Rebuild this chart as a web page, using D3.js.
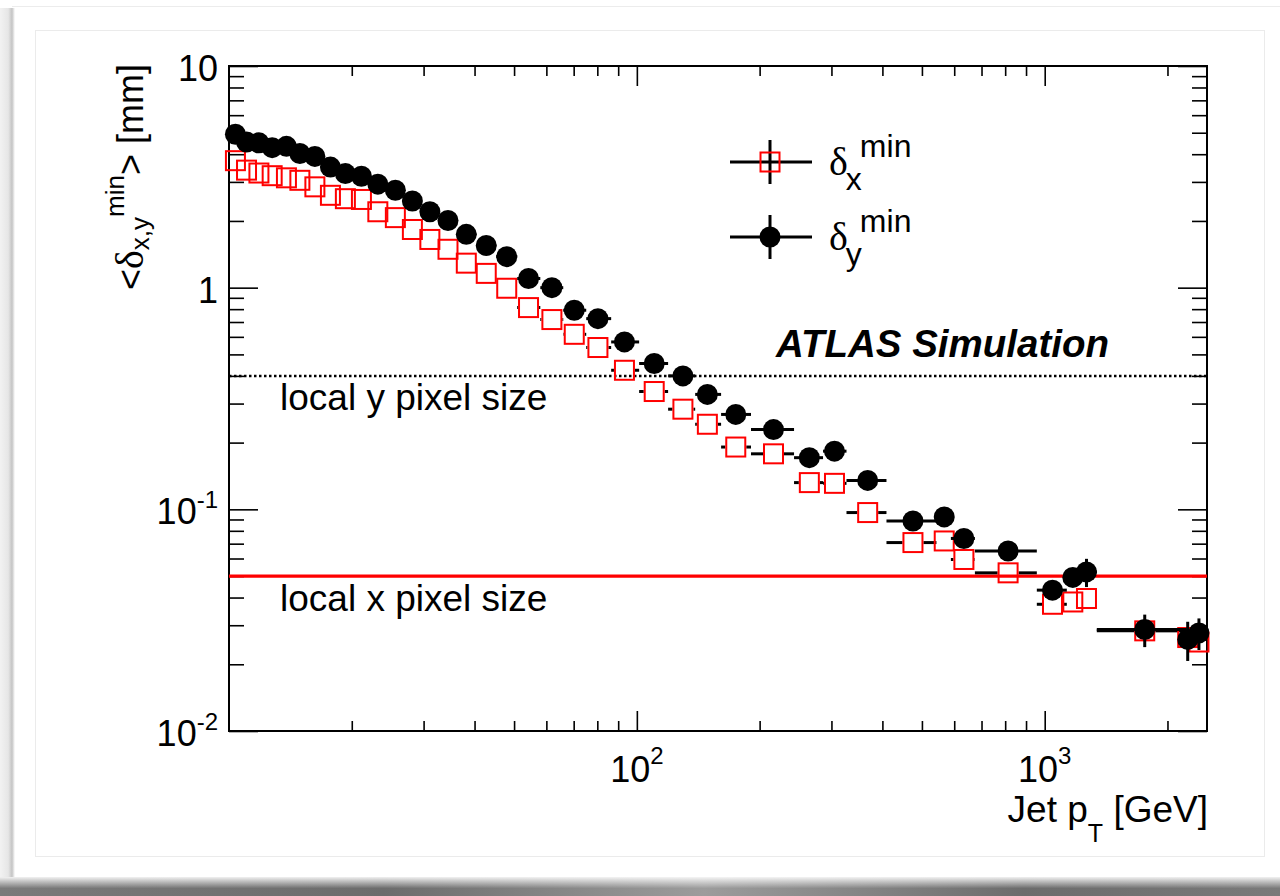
<!DOCTYPE html>
<html>
<head>
<meta charset="utf-8">
<script src="https://cdn.jsdelivr.net/npm/d3@7"></script>
<style>
  body { margin: 0; background: #fff; }
  svg { display: block; font-family: "Liberation Sans", Arial, sans-serif; }
  text { white-space: pre; }
</style>
</head>
<body>
<div id="chart"></div>
<script>
// ---- data ----
// jet pT bin centres [GeV]
const ptCenter = [10.37, 11.04, 11.84, 12.76, 13.83, 14.92, 16.24, 17.73, 19.29, 21.12,
                  23.17, 25.58, 28.16, 31.08, 34.43, 38.18, 42.73, 47.97, 54.25, 61.90,
                  70.23, 80.27, 93.24, 110.3, 129.7, 148.9, 174.8, 216.3, 264.8, 305.2,
                  368.1, 475.3, 567.1, 633.7, 813.3, 1045, 1172, 1266, 1759, 2242, 2389];
// bin edges (horizontal error bars)
const ptEdges = [10, 10.67, 11.42, 12.29, 13.30, 14.39, 15.57, 16.95, 18.49, 20.18,
                 22.09, 24.31, 26.84, 29.62, 32.70, 36.29, 40.40, 45.22, 50.89, 57.98,
                 66.00, 75.14, 86.50, 101.3, 119.3, 139.0, 160.9, 190.5, 242.9, 286.1,
                 326.6, 409.3, 542.7, 588.8, 674.3, 956.5, 1133, 1219, 1342, 2229, 2280, 2500];
// <delta_x^min> [mm]  (open red squares)
const deltaX = [3.74, 3.39, 3.29, 3.20, 3.13, 3.05, 2.85, 2.61, 2.52, 2.50,
                2.20, 2.07, 1.83, 1.65, 1.49, 1.29, 1.16, 0.994, 0.813, 0.718,
                0.616, 0.537, 0.424, 0.340, 0.283, 0.242, 0.191, 0.178, 0.132, 0.131,
                0.0967, 0.0708, 0.0720, 0.0594, 0.0517, 0.0373, 0.0382, 0.0396, 0.0283, 0.0264, 0.0252];
const deltaXErr = [0.04, 0.04, 0.04, 0.03, 0.03, 0.03, 0.03, 0.03, 0.03, 0.03,
                   0.02, 0.02, 0.02, 0.02, 0.02, 0.02, 0.01, 0.01, 0.01, 0.01,
                   0.008, 0.008, 0.006, 0.006, 0.005, 0.005, 0.004, 0.004, 0.003, 0.003,
                   0.003, 0.002, 0.002, 0.002, 0.002, 0.002, 0.002, 0.002, 0.002, 0.002, 0.002];
// <delta_y^min> [mm]  (full black circles)
const deltaY = [4.92, 4.54, 4.50, 4.28, 4.34, 4.03, 3.91, 3.50, 3.27, 3.18,
                2.93, 2.75, 2.46, 2.20, 2.01, 1.74, 1.55, 1.38, 1.10, 1.00,
                0.791, 0.725, 0.569, 0.455, 0.400, 0.330, 0.268, 0.229, 0.171, 0.183,
                0.135, 0.0886, 0.0924, 0.0739, 0.0649, 0.0432, 0.0493, 0.0522, 0.0287, 0.0259, 0.0277];
const deltaYErr = [0.05, 0.05, 0.05, 0.04, 0.04, 0.04, 0.04, 0.04, 0.03, 0.03,
                   0.03, 0.03, 0.03, 0.02, 0.02, 0.02, 0.02, 0.02, 0.02, 0.02,
                   0.01, 0.01, 0.01, 0.008, 0.008, 0.006, 0.006, 0.005, 0.005, 0.005,
                   0.004, 0.003, 0.003, 0.003, 0.003, 0.003, 0.003, 0.0076, 0.0048, 0.0052, 0.0045];

// pixel pitch reference lines [mm]
const pixelSizeY = 0.4;
const pixelSizeX = 0.05;

// axes
const xDomain = [10, 2500];
const yDomain = [0.01, 10];
const xMajorTicks = [100, 1000];
const xTickLabels = [["10", "2"], ["10", "3"]];
const yMajorTicks = [0.01, 0.1, 1, 10];
const yTickLabels = [["10", "-2"], ["10", "-1"], ["1", ""], ["10", ""]];


/* * * * * * * * * * * * * *
*       Layout             *
* * * * * * * * * * * * * */

const W = 1280, H = 896;
const plot = {left: 229, right: 1207, top: 66, bottom: 731};

const svg = d3.select("#chart").append("svg")
    .attr("width", W)
    .attr("height", H);

const defs = svg.append("defs");

// page frame / shadow decoration
let sideGrad = defs.append("linearGradient").attr("id", "sideShadow")
    .attr("x1", "0%").attr("x2", "100%");
sideGrad.append("stop").attr("offset", "0%").attr("stop-color", "#f2f2f2");
sideGrad.append("stop").attr("offset", "55%").attr("stop-color", "#e6e6e6");
sideGrad.append("stop").attr("offset", "80%").attr("stop-color", "#c4c4c4");
sideGrad.append("stop").attr("offset", "100%").attr("stop-color", "#ffffff");

let bottomGrad = defs.append("linearGradient").attr("id", "bottomShadow")
    .attr("x1", "0%").attr("x2", "100%");
bottomGrad.append("stop").attr("offset", "0%").attr("stop-color", "#7a7a7a");
bottomGrad.append("stop").attr("offset", "30%").attr("stop-color", "#6c6c6c");
bottomGrad.append("stop").attr("offset", "55%").attr("stop-color", "#9c9c9c");
bottomGrad.append("stop").attr("offset", "80%").attr("stop-color", "#6c6c6c");
bottomGrad.append("stop").attr("offset", "100%").attr("stop-color", "#7a7a7a");

let fadeGrad = defs.append("linearGradient").attr("id", "bottomFade")
    .attr("x1", "0%").attr("x2", "0%").attr("y1", "0%").attr("y2", "100%");
fadeGrad.append("stop").attr("offset", "0%").attr("stop-color", "#ffffff").attr("stop-opacity", 0.9);
fadeGrad.append("stop").attr("offset", "60%").attr("stop-color", "#ffffff").attr("stop-opacity", 0);

svg.append("rect").attr("width", W).attr("height", H).attr("fill", "#fff");
svg.append("rect").attr("x", 0).attr("y", 8).attr("width", 15).attr("height", 870).attr("fill", "url(#sideShadow)");
svg.append("line").attr("x1", 12).attr("x2", W).attr("y1", 6.5).attr("y2", 6.5)
    .attr("stroke", "#ececec").attr("stroke-width", 1);
svg.append("rect").attr("x", 0).attr("y", 877).attr("width", W).attr("height", 19).attr("fill", "url(#bottomShadow)");
svg.append("rect").attr("x", 0).attr("y", 877).attr("width", W).attr("height", 19).attr("fill", "url(#bottomFade)");
svg.append("rect").attr("x", 35.5).attr("y", 30.5).attr("width", 1229).attr("height", 826)
    .attr("fill", "none").attr("stroke", "#ebebeb").attr("stroke-width", 1);


/* * * * * * * * * * * * * *
*       Scales / axes      *
* * * * * * * * * * * * * */

const x = d3.scaleLog().domain(xDomain).range([plot.left, plot.right]);
const y = d3.scaleLog().domain(yDomain).range([plot.bottom, plot.top]);

const isDecade = v => Math.abs(Math.log10(v) - Math.round(Math.log10(v))) < 1e-6;
const xMinor = x.ticks().filter(v => !isDecade(v));
const yMinor = y.ticks().filter(v => !isDecade(v));

function drawAxis(axis, tx, ty) {
    svg.append("g")
        .attr("transform", `translate(${tx},${ty})`)
        .call(axis)
        .call(g => g.select(".domain").remove())
        .call(g => g.selectAll("text").remove())
        .call(g => g.selectAll("line").attr("stroke", "#000").attr("stroke-width", 1.6));
}

// x: bottom + top, ticks pointing inside
drawAxis(d3.axisBottom(x).tickValues(xMinor).tickSize(-10), 0, plot.bottom);
drawAxis(d3.axisBottom(x).tickValues(xMajorTicks).tickSize(-20), 0, plot.bottom);
drawAxis(d3.axisTop(x).tickValues(xMinor).tickSize(-10), 0, plot.top);
drawAxis(d3.axisTop(x).tickValues(xMajorTicks).tickSize(-20), 0, plot.top);
// y: left + right
drawAxis(d3.axisLeft(y).tickValues(yMinor).tickSize(-15), plot.left, 0);
drawAxis(d3.axisLeft(y).tickValues(yMajorTicks).tickSize(-29), plot.left, 0);
drawAxis(d3.axisRight(y).tickValues(yMinor).tickSize(-15), plot.right, 0);
drawAxis(d3.axisRight(y).tickValues(yMajorTicks).tickSize(-29), plot.right, 0);

// frame
svg.append("rect")
    .attr("x", plot.left).attr("y", plot.top)
    .attr("width", plot.right - plot.left).attr("height", plot.bottom - plot.top)
    .attr("fill", "none").attr("stroke", "#000").attr("stroke-width", 2);

// tick labels with exponents
svg.append("g").selectAll("text")
    .data(xMajorTicks)
    .join("text")
    .attr("x", d => x(d))
    .attr("y", 782)
    .attr("text-anchor", "middle")
    .attr("font-size", 36)
    .each(function(d, i) {
        let t = d3.select(this);
        t.append("tspan").text(xTickLabels[i][0]);
        t.append("tspan").attr("font-size", 24).attr("dy", -18).text(xTickLabels[i][1]);
    });

svg.append("g").selectAll("text")
    .data(yMajorTicks)
    .join("text")
    .attr("x", 218)
    .attr("y", d => y(d) + 15)
    .attr("text-anchor", "end")
    .attr("font-size", 36)
    .each(function(d, i) {
        let t = d3.select(this);
        t.append("tspan").text(yTickLabels[i][0]);
        if (yTickLabels[i][1] !== "")
            t.append("tspan").attr("font-size", 24).attr("dy", -16).text(yTickLabels[i][1]);
    });


// sequential text pieces (super/subscripts), returns the group
function richText(parent, parts) {
    let g = parent.append("g");
    let cx = 0, prevStart = 0;
    parts.forEach(p => {
        let startX = p.stack ? prevStart : cx;
        let t = g.append("text")
            .attr("x", startX + (p.dx || 0))
            .attr("y", p.dy || 0)
            .attr("font-size", p.size)
            .attr("font-family", p.family || null)
            .attr("font-style", p.style || null)
            .attr("font-weight", p.weight || null)
            .text(p.t);
        let w = t.node().getComputedTextLength() + (p.dx || 0);
        if (p.stack) {
            cx = Math.max(cx, startX + w);
        } else {
            prevStart = startX + w;
            cx = startX + w;
        }
    });
    g.node().__width = cx;
    return g;
}

// axis titles
let xTitle = richText(svg, [
    {t: "Jet p", size: 37},
    {t: "T", size: 25, dy: 20},
    {t: " [GeV]", size: 37}
]);
xTitle.attr("transform", `translate(${1208 - xTitle.node().__width},822)`);

let yTitleWrap = svg.append("g");
let yTitle = richText(yTitleWrap, [
    {t: "<", size: 36},
    {t: "δ", size: 40, family: "Liberation Serif, serif"},
    {t: "x,y", size: 26, dy: 6},
    {t: "min", size: 26, dy: -19, stack: true},
    {t: ">", size: 36},
    {t: " [mm]", size: 36}
]);
yTitleWrap.attr("transform", `translate(143,${64 + yTitle.node().__width}) rotate(-90)`);


/* * * * * * * * * * * * * *
*   Reference lines        *
* * * * * * * * * * * * * */

svg.append("line")
    .attr("x1", plot.left).attr("x2", plot.right)
    .attr("y1", Math.round(y(pixelSizeY))).attr("y2", Math.round(y(pixelSizeY)))
    .attr("stroke", "#000").attr("stroke-width", 2.4)
    .attr("stroke-dasharray", "2.5,2.5");

svg.append("line")
    .attr("x1", plot.left).attr("x2", plot.right)
    .attr("y1", y(pixelSizeX)).attr("y2", y(pixelSizeX))
    .attr("stroke", "#ff0000").attr("stroke-width", 3.2);

svg.append("text").attr("x", 280).attr("y", y(pixelSizeY) + 34.5)
    .attr("font-size", 37).text("local y pixel size");
svg.append("text").attr("x", 280).attr("y", y(pixelSizeX) + 34.5)
    .attr("font-size", 37).text("local x pixel size");

svg.append("text").attr("x", 776).attr("y", 357)
    .attr("font-size", 38.5).attr("font-weight", "bold").attr("font-style", "italic")
    .text("ATLAS Simulation");


/* * * * * * * * * * * * * *
*   Data points            *
* * * * * * * * * * * * * */

const half = 10.5; // marker half size in px
const rows = ptCenter.map((pt, i) => ({
    pt: pt, lo: ptEdges[i], hi: ptEdges[i + 1],
    dx: deltaX[i], dxErr: deltaXErr[i],
    dy: deltaY[i], dyErr: deltaYErr[i]
}));

// squares: error bars drawn only outside the open marker
let sqBars = svg.append("g").attr("stroke", "#000").attr("stroke-width", 3);
rows.forEach(d => {
    let cx = x(d.pt), cy = y(d.dx);
    let segs = [
        [x(d.lo), cy, cx - half, cy],
        [cx + half, cy, x(d.hi), cy],
        [cx, y(d.dx + d.dxErr), cx, cy - half],
        [cx, cy + half, cx, y(d.dx - d.dxErr)]
    ];
    segs.forEach(s => {
        if (s[2] > s[0] || s[3] > s[1])
            sqBars.append("line").attr("x1", s[0]).attr("y1", s[1]).attr("x2", s[2]).attr("y2", s[3]);
    });
});

svg.append("g").selectAll("rect")
    .data(rows)
    .join("rect")
    .attr("x", d => x(d.pt) - half + 1)
    .attr("y", d => y(d.dx) - half + 1)
    .attr("width", 2 * half - 2)
    .attr("height", 2 * half - 2)
    .attr("fill", "none")
    .attr("stroke", "#ff0000")
    .attr("stroke-width", 2);

// circles
let ciBars = svg.append("g").attr("stroke", "#000").attr("stroke-width", 3);
ciBars.selectAll("line.h")
    .data(rows)
    .join("line")
    .attr("x1", d => x(d.lo)).attr("x2", d => x(d.hi))
    .attr("y1", d => y(d.dy)).attr("y2", d => y(d.dy));
ciBars.selectAll("line.v")
    .data(rows)
    .join("line")
    .attr("x1", d => x(d.pt)).attr("x2", d => x(d.pt))
    .attr("y1", d => y(d.dy + d.dyErr)).attr("y2", d => y(d.dy - d.dyErr));

svg.append("g").selectAll("circle")
    .data(rows)
    .join("circle")
    .attr("cx", d => x(d.pt))
    .attr("cy", d => y(d.dy))
    .attr("r", half)
    .attr("fill", "#000");


/* * * * * * * * * * * * * *
*   Legend                 *
* * * * * * * * * * * * * */

const legendRows = [
    {cy: 162, sub: "x", marker: "square"},
    {cy: 237, sub: "y", marker: "circle"}
];
legendRows.forEach(r => {
    let g = svg.append("g");
    g.append("line").attr("x1", 730).attr("x2", 812).attr("y1", r.cy).attr("y2", r.cy)
        .attr("stroke", "#000").attr("stroke-width", 3);
    g.append("line").attr("x1", 770).attr("x2", 770).attr("y1", r.cy - 22).attr("y2", r.cy + 22)
        .attr("stroke", "#000").attr("stroke-width", 3);
    if (r.marker === "square") {
        g.append("rect").attr("x", 770 - half + 1).attr("y", r.cy - half + 1)
            .attr("width", 2 * half - 2).attr("height", 2 * half - 2)
            .attr("fill", "none").attr("stroke", "#ff0000").attr("stroke-width", 2);
    } else {
        g.append("circle").attr("cx", 770).attr("cy", r.cy).attr("r", half).attr("fill", "#000");
    }
    let label = richText(svg, [
        {t: "δ", size: 40, family: "Liberation Serif, serif"},
        {t: r.sub, size: 32, dy: 15, dx: -2},
        {t: "min", size: 32, dy: -18, dx: -2, stack: true}
    ]);
    label.attr("transform", `translate(829,${r.cy + 13})`);
});
</script>
</body>
</html>
